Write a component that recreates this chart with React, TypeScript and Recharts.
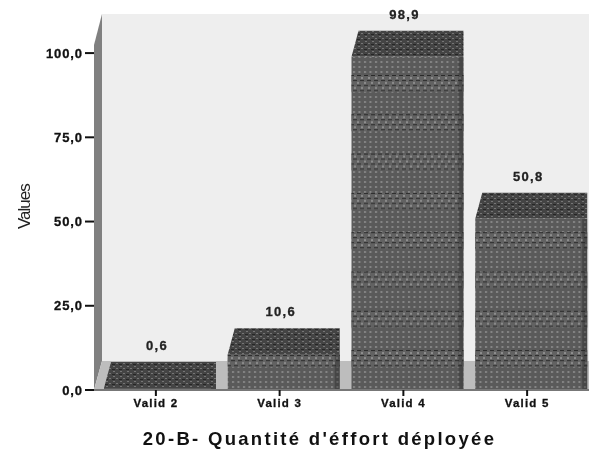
import React from "react"
import { Bar, BarChart, LabelList, XAxis, YAxis } from "recharts"

const categories = ["Valid 2", "Valid 3", "Valid 4", "Valid 5"]
const values = [0.6, 10.6, 98.9, 50.8]
const yTicks = [0, 25, 50, 75, 100]
const yMax = 111.6

const data = categories.map((name, i) => ({ name, value: values[i] }))

const fontFamily = "'Liberation Sans', Arial, sans-serif"
const formatComma = (v: number) => v.toFixed(1).replace(".", ",")

// extrusion of the fake 3D bars, in pixels
const DEPTH_X = 7
const DEPTH_Y = 26
const BAR_SHIFT = 4

function Bar3D(props: any) {
  const { x, y, width, height } = props
  const left = x + BAR_SHIFT
  const right = left + width
  const bottom = y + height
  return (
    <g>
      <rect x={left} y={y} width={width} height={height} fill="url(#frontHatch)" />
      <rect x={left} y={y} width={width} height={height} fill="url(#moireBands)" />
      <rect x={right - 5} y={y} width={5} height={height} fill="#222" opacity={0.35} />
      <polygon
        points={`${left},${y} ${left + DEPTH_X},${y - DEPTH_Y} ${right},${y - DEPTH_Y} ${right},${y}`}
        fill="url(#topHatch)"
      />
      <line x1={left} x2={right} y1={bottom} y2={bottom} stroke="#666" />
    </g>
  )
}

function BarValue(props: any) {
  const { x, y, width, value } = props
  return (
    <text
      x={x + width / 2 + 1}
      y={y - 38}
      textAnchor="middle"
      fontFamily={fontFamily}
      fontWeight="bold"
      fontSize={13}
      letterSpacing={1.3}
      fill="#222"
      stroke="#222"
      strokeWidth={0.3}
    >
      {formatComma(value)}
    </text>
  )
}

export default function App() {
  return (
    <div style={{ position: "absolute", left: 0, top: 0, width: 589, height: 450, background: "#fff", filter: "blur(0.45px)" }}>
      <BarChart
        width={589}
        height={450}
        data={data}
        margin={{ top: 14, right: 0, bottom: 0, left: 0 }}
        barSize={112}
      >
        <defs>
          <pattern id="frontHatch" width="5.5" height="5" patternUnits="userSpaceOnUse">
            <rect width="5.5" height="5" fill="#5a5a5a" />
            <rect x="1" y="1" width="2" height="2" fill="#868686" />
          </pattern>
          <pattern id="moireBands" y="75" width="7" height="39.3" patternUnits="userSpaceOnUse">
            <rect width="7" height="17" fill="#626262" />
            <rect x="0" y="0" width="4" height="1" fill="#2a2a2a" />
            <rect x="3" y="5" width="4" height="1" fill="#2a2a2a" />
            <rect x="0" y="10" width="4" height="1" fill="#2a2a2a" />
            <rect x="3" y="15" width="4" height="1" fill="#2a2a2a" />
            <rect x="4" y="2" width="2" height="2" fill="#8e8e8e" />
            <rect x="0" y="7" width="2" height="2" fill="#8e8e8e" />
            <rect x="4" y="12" width="2" height="2" fill="#8e8e8e" />
          </pattern>
          <pattern id="topHatch" width="7" height="5" patternUnits="userSpaceOnUse">
            <rect width="7" height="5" fill="#444" />
            <rect x="1" y="1" width="2" height="1" fill="#767676" />
            <rect x="4" y="3" width="2" height="1" fill="#767676" />
            <rect y="4" width="3" height="1" fill="#262626" />
          </pattern>
        </defs>
        <polygon points="102,14 589,14 589,361 102,361" fill="#eeeeee" />
        <polygon points="94,45 102,14 102,361 94,390" fill="#808080" />
        <polygon points="102,361 589,361 589,390 94,390" fill="#bdbdbd" />
        <XAxis
          dataKey="name"
          height={60}
          axisLine={{ stroke: "#777", strokeWidth: 2 }}
          tickLine={{ stroke: "#111", strokeWidth: 2 }}
          tickSize={6}
          tickMargin={3}
          tick={{ fontFamily, fontWeight: "bold", fontSize: 11.5, letterSpacing: 1.2, fill: "#111", stroke: "#111", strokeWidth: 0.3 }}
          interval={0}
          label={{
            value: "20-B- Quantité d'éffort déployée",
            position: "insideBottom",
            offset: 5,
            fontFamily,
            fontWeight: "bold",
            fontSize: 18.5,
            letterSpacing: 2.3,
            fill: "#111",
            dx: -22,
          }}
        />
        <YAxis
          domain={[0, yMax]}
          ticks={yTicks}
          tickFormatter={formatComma}
          axisLine={false}
          tickLine={{ stroke: "#111", strokeWidth: 2 }}
          tickSize={9}
          width={94}
          tick={{ fontFamily, fontWeight: "bold", fontSize: 13, letterSpacing: 0.9, fill: "#111", stroke: "#111", strokeWidth: 0.3 }}
          label={{
            value: "Values",
            angle: -90,
            position: "insideLeft",
            offset: 24,
            dy: 27,
            fontFamily,
            fontSize: 17,
            letterSpacing: -1,
            fill: "#222",
          }}
        />
        <Bar dataKey="value" shape={<Bar3D />} isAnimationActive={false}>
          <LabelList dataKey="value" content={<BarValue />} />
        </Bar>
      </BarChart>
    </div>
  )
}
